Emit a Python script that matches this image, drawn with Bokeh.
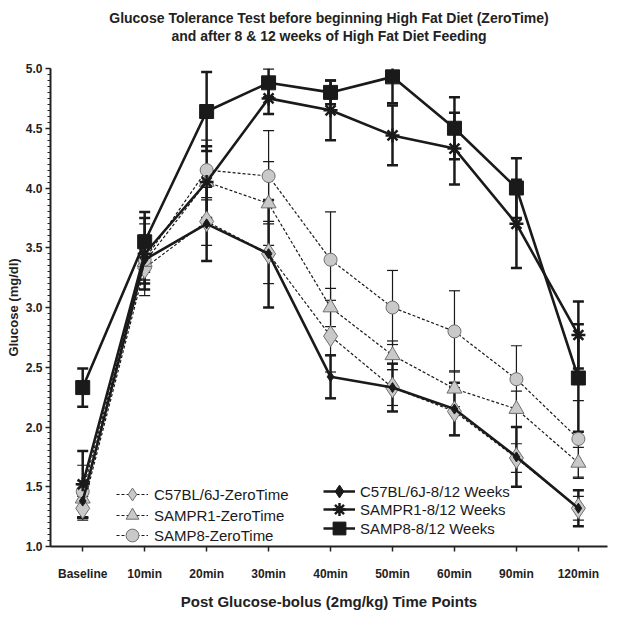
from bokeh.plotting import figure
from bokeh.models import (Range1d, ColumnDataSource, Legend, LegendItem, Title,
                          FixedTicker, SingleIntervalTicker, NumeralTickFormatter)
from bokeh.embed import file_html
from bokeh.resources import INLINE

time_points = ["Baseline", "10min", "20min", "30min", "40min", "50min", "60min", "90min", "120min"]

c57_zero = [1.32, 3.33, 3.72, 3.45, 2.76, 2.33, 2.13, 1.74, 1.32]
c57_zero_err = [0.10, 0.10, 0.20, 0.25, 0.30, 0.15, 0.20, 0.12, 0.10]
sampr1_zero = [1.40, 3.38, 4.05, 3.87, 3.00, 2.60, 2.32, 2.15, 1.70]
sampr1_zero_err = [0.15, 0.15, 0.30, 0.35, 0.16, 0.12, 0.15, 0.15, 0.13]
samp8_zero = [1.46, 3.40, 4.15, 4.10, 3.40, 3.00, 2.80, 2.40, 1.90]
samp8_zero_err = [0.22, 0.30, 0.25, 0.38, 0.40, 0.31, 0.34, 0.28, 0.32]

c57_wk = [1.38, 3.40, 3.70, 3.45, 2.42, 2.33, 2.15, 1.75, 1.32]
c57_wk_err = [0.14, 0.20, 0.31, 0.45, 0.18, 0.20, 0.22, 0.25, 0.15]
sampr1_wk = [1.52, 3.45, 4.05, 4.75, 4.65, 4.44, 4.33, 3.70, 2.77]
sampr1_wk_err = [0.28, 0.30, 0.30, 0.13, 0.25, 0.25, 0.30, 0.37, 0.28]
samp8_wk = [2.33, 3.55, 4.64, 4.88, 4.80, 4.93, 4.50, 4.00, 2.41]
samp8_wk_err = [0.16, 0.25, 0.33, 0.12, 0.10, 0.22, 0.26, 0.25, 0.45]

title_lines = ["Glucose Tolerance Test before beginning High Fat Diet (ZeroTime)",
               "and after 8 & 12 weeks of High Fat Diet Feeding"]

FONT = "Liberation Sans"
GRAY_FILL = "#c9c9c9"
GRAY_LINE = "#6e6e6e"
INK = "#1a1a1a"

p = figure(width=608, height=612, output_backend="svg", toolbar_location=None, title=None,
           x_range=Range1d(-0.52, 8.47), y_range=Range1d(1.0, 5.0),
           min_border_left=50, min_border_right=1, min_border_top=68, min_border_bottom=64)
p.outline_line_color = None
p.xgrid.grid_line_color = None
p.ygrid.grid_line_color = None
p.background_fill_color = "white"

xs = list(range(len(time_points)))

# axes
p.xaxis.ticker = FixedTicker(ticks=xs)
p.xaxis.major_label_overrides = {i: t for i, t in enumerate(time_points)}
p.xaxis.minor_tick_line_color = None
p.xaxis.major_tick_in = 0
p.xaxis.major_tick_out = 5
p.yaxis.ticker = SingleIntervalTicker(interval=0.5, num_minor_ticks=10)
p.yaxis.formatter = NumeralTickFormatter(format="0.0")
p.yaxis.major_tick_in = 0
p.yaxis.major_tick_out = 5
p.yaxis.minor_tick_in = 0
p.yaxis.minor_tick_out = 3
for ax in (p.xaxis, p.yaxis):
    ax.axis_line_width = 2
    ax.axis_line_color = "#222222"
    ax.major_tick_line_width = 1.5
    ax.major_tick_line_color = "#222222"
    ax.minor_tick_line_color = "#222222"
    ax.major_label_text_font = FONT
    ax.major_label_text_font_style = "bold"
    ax.major_label_text_font_size = "12px"
    ax.major_label_text_color = "#222222"
    ax.axis_label_text_font = FONT
    ax.axis_label_text_font_style = "bold"
    ax.axis_label_text_color = "#222222"
p.xaxis.axis_label = "Post Glucose-bolus (2mg/kg) Time Points"
p.xaxis.axis_label_text_font_size = "15px"
p.xaxis.major_label_standoff = 15
p.xaxis.axis_label_standoff = 9
p.yaxis.axis_label = "Glucose (mg/dl)"
p.yaxis.axis_label_text_font_size = "13px"
p.yaxis.major_label_standoff = 3
p.yaxis.axis_label_standoff = 2

def errbars(vals, errs, width, cap):
    lo = [v - e for v, e in zip(vals, errs)]
    hi = [v + e for v, e in zip(vals, errs)]
    src = ColumnDataSource(dict(x=xs, lo=lo, hi=hi))
    p.segment(x0="x", y0="lo", x1="x", y1="hi", source=src, line_color=INK, line_width=width)
    p.scatter(x="x", y="lo", source=src, marker="dash", size=cap, line_color=INK, line_width=width)
    p.scatter(x="x", y="hi", source=src, marker="dash", size=cap, line_color=INK, line_width=width)

errbars(c57_zero, c57_zero_err, 1.2, 11)
errbars(sampr1_zero, sampr1_zero_err, 1.2, 11)
errbars(samp8_zero, samp8_zero_err, 1.2, 11)
errbars(c57_wk, c57_wk_err, 2.5, 11)
errbars(sampr1_wk, sampr1_wk_err, 2.5, 11)
errbars(samp8_wk, samp8_wk_err, 2.5, 11)

series = [
    ("C57BL/6J-ZeroTime", c57_zero, "dashed", "diamond", 21),
    ("SAMPR1-ZeroTime", sampr1_zero, "dashed", "triangle", 15),
    ("SAMP8-ZeroTime", samp8_zero, "dashed", "circle", 13),
    ("C57BL/6J-8/12 Weeks", c57_wk, "solid", "diamond", 10),
    ("SAMPR1-8/12 Weeks", sampr1_wk, "solid", "asterisk", 14),
    ("SAMP8-8/12 Weeks", samp8_wk, "solid", "square", 14),
]

# legend placement: (frame x of glyph start, frame y of bottom, label standoff)
legend_spots = [(66, 30, 6), (66, 9, 6), (66, -11, 6),
                (273, 33, 5), (273, 15, 5), (273, -4, 5)]

for (name, vals, style, marker, size), (lx, ly, so) in zip(series, legend_spots):
    src = ColumnDataSource(dict(x=xs, y=vals))
    if style == "dashed":
        ln = p.line("x", "y", source=src, line_color=INK, line_width=1.2, line_dash="3 2")
        mk = p.scatter("x", "y", source=src, marker=marker, size=size,
                       fill_color=GRAY_FILL, line_color=GRAY_LINE, line_width=1)
    else:
        ln = p.line("x", "y", source=src, line_color=INK, line_width=2.6)
        if marker == "asterisk":
            mk = p.scatter("x", "y", source=src, marker=marker, size=size,
                           line_color=INK, line_width=2.5)
        else:
            mk = p.scatter("x", "y", source=src, marker=marker, size=size,
                           fill_color=INK, line_color=INK, line_width=1)
    lg = Legend(items=[LegendItem(label=name, renderers=[ln, mk])], location=(lx, ly),
                glyph_width=32, glyph_height=44, label_height=20, spacing=0,
                label_standoff=so, padding=0, margin=0,
                label_text_font=FONT, label_text_font_size="15px",
                label_text_color=INK, border_line_color=None,
                background_fill_alpha=0)
    p.add_layout(lg)

# two-line title (first added sits closest to the frame)
p.add_layout(Title(text=title_lines[1], align="center", standoff=0,
                   padding=dict(top=0, bottom=25, left=0, right=0),
                   text_font=FONT, text_font_style="bold", text_font_size="14px",
                   text_color="#222222"), "above")
p.add_layout(Title(text=title_lines[0], align="center", standoff=0,
                   text_font=FONT, text_font_style="bold", text_font_size="14px",
                   text_color="#222222"), "above")

open("out.html", "w").write(file_html(p, INLINE))
